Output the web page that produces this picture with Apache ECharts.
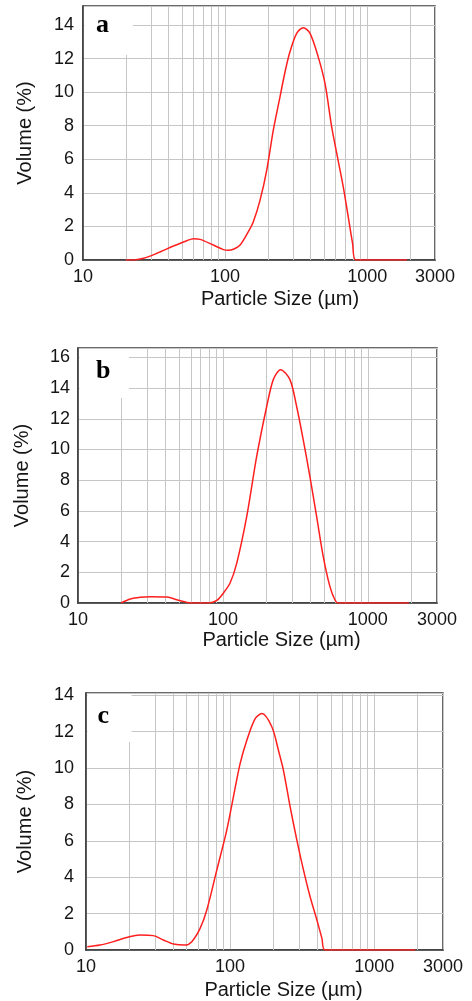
<!DOCTYPE html>
<html>
<head>
<meta charset="utf-8">
<script src="https://cdn.jsdelivr.net/npm/echarts@6.0.0/dist/echarts.min.js"></script>
<style>
html,body{margin:0;padding:0;background:#fff;}
#chart{width:472px;height:1001px;}
</style>
</head>
<body>
<div id="chart"></div>
<script>
// ---- data ----
const xTickLabels = ['10', '100', '1000', '3000'];
const yTickStep = 2;
const minorGridSizes = [20, 30, 40, 50, 60, 70, 80, 90, 200, 300, 400, 500, 600, 700, 800, 900, 2000];
const panelLetters = ['a', 'b', 'c'];
const xAxisTitle = 'Particle Size (µm)';
const yAxisTitle = 'Volume (%)';
const yMaxes = [15.13, 16.61, 14.13];

const sizesA = [20, 23.5, 26.7, 33.1, 43.3, 53.8, 59.9, 66.7, 82.7, 97.3, 105, 114.4, 127.5, 145.8, 158, 176.2, 196.4, 218.4, 243.6, 264, 286, 319, 355, 396, 452, 505, 562, 610, 678, 735, 789, 833, 1910];
const volA   = [0, 0.02, 0.1, 0.4, 0.83, 1.15, 1.27, 1.23, 0.89, 0.62, 0.58, 0.64, 0.89, 1.69, 2.28, 3.57, 5.36, 7.74, 9.73, 11.2, 12.4, 13.5, 13.84, 13.5, 12.1, 10.5, 7.94, 6.36, 4.37, 2.58, 0.99, 0, 0];

const sizesB = [19.8, 23.0, 26.9, 31.6, 41.1, 48.2, 56.4, 59.5, 79.4, 90.8, 100.8, 112, 124.6, 146, 171, 200.5, 222.6, 250, 290, 322.6, 358, 398, 443, 492, 547, 592, 624, 1922];
const volB   = [0, 0.26, 0.37, 0.41, 0.39, 0.21, 0.04, 0, 0, 0.17, 0.65, 1.3, 2.6, 5.64, 9.55, 12.8, 14.55, 15.2, 14.55, 12.8, 10.64, 8.25, 5.64, 3.04, 1.08, 0.21, 0, 0];

const sizesC = [10.2, 12.5, 15.5, 20.0, 23.7, 29.3, 34.4, 40.4, 48.7, 54.2, 61.9, 68.9, 80.8, 94.8, 105.4, 117.3, 130.6, 149.2, 166, 195, 216.4, 234.4, 261, 290.4, 323, 359, 400, 433.5, 457, 1927];
const volC   = [0.18, 0.27, 0.46, 0.73, 0.82, 0.79, 0.55, 0.33, 0.27, 0.46, 1.19, 2.2, 4.39, 6.59, 8.42, 10.25, 11.53, 12.72, 13.0, 12.26, 10.98, 9.88, 7.87, 6.04, 4.39, 2.93, 1.65, 0.64, 0, 0];

const allSizes = [sizesA, sizesB, sizesC];
const allVols = [volA, volB, volC];

// ---- layout / style (not data) ----
const layouts = [
  {left: 83, top: 6,   width: 352, height: 254, yLabelMargin: 9,  yNameGap: 48, xNameGap: 29, xNameShift: 21, box: [84.5, 7, 48.5, 48]},
  {left: 78, top: 348, width: 359, height: 255, yLabelMargin: 8,  yNameGap: 46, xNameGap: 27, xNameShift: 24, box: [79.5, 349, 49.5, 49]},
  {left: 86, top: 693, width: 357, height: 257, yLabelMargin: 12, yNameGap: 51, xNameGap: 30, xNameShift: 19, box: [87.5, 694, 44, 48]}
];
const letterPos = [[102.5, 25], [103.3, 371.5], [103.3, 716]];

const FONT = '"Liberation Sans", Arial, Helvetica, sans-serif';
const TEXT = '#151515';
const GRIDC = '#c6c6c6';
const FRAME = '#3a3a3a';

const grids = [], xAxes = [], yAxes = [], series = [], graphics = [];

layouts.forEach((L, i) => {
  grids.push({
    left: L.left, top: L.top, width: L.width, height: L.height,
    show: true, borderColor: FRAME, borderWidth: 1.5, backgroundColor: 'transparent',
    containLabel: false, outerBoundsMode: 'none'
  });
  xAxes.push({
    type: 'log', logBase: 10, gridIndex: i, min: 10, max: 3000,
    axisLine: {show: true, lineStyle: {color: FRAME, width: 1.5}},
    axisTick: {show: false},
    axisLabel: {
      color: TEXT, fontSize: 18, fontFamily: FONT, margin: 8,
      showMinLabel: true, showMaxLabel: true, hideOverlap: false,
      formatter: function (v) {
        const s = String(Math.round(v));
        return xTickLabels.indexOf(s) >= 0 ? s : '';
      }
    },
    splitLine: {show: true, lineStyle: {color: GRIDC, width: 1}},
    name: xAxisTitle, nameLocation: 'middle', nameGap: L.xNameGap,
    nameTextStyle: {color: TEXT, fontSize: 20, fontFamily: FONT, padding: [0, 0, 0, 2 * L.xNameShift]}
  });
  yAxes.push({
    type: 'value', gridIndex: i, min: 0, max: yMaxes[i], interval: yTickStep,
    axisLine: {show: true, lineStyle: {color: FRAME, width: 1.5}},
    axisTick: {show: false},
    axisLabel: {
      color: TEXT, fontSize: 18, fontFamily: FONT, margin: L.yLabelMargin, showMaxLabel: false,
      formatter: function (v) { return (Math.abs(v % yTickStep) < 1e-9) ? String(v) : ''; }
    },
    splitLine: {show: true, lineStyle: {color: GRIDC, width: 1}},
    name: yAxisTitle, nameLocation: 'middle', nameGap: L.yNameGap,
    nameTextStyle: {color: TEXT, fontSize: 20, fontFamily: FONT}
  });
  // minor vertical grid lines (drawn via the log axis scale)
  series.push({
    type: 'line', xAxisIndex: i, yAxisIndex: i, data: [], z: 1, silent: true,
    markLine: {
      silent: true, symbol: 'none', animation: false,
      label: {show: false},
      lineStyle: {color: GRIDC, width: 1, type: 'solid'},
      emphasis: {disabled: true},
      data: minorGridSizes.map(v => ({xAxis: v}))
    }
  });
  series.push({
    type: 'line', xAxisIndex: i, yAxisIndex: i, z: 5,
    data: allSizes[i].map((s, j) => [s, allVols[i][j]]),
    showSymbol: false, smooth: 0.3,
    lineStyle: {color: '#ff1f1f', width: 1.5},
    animation: false
  });
  const b = L.box;
  graphics.push({
    type: 'rect', z: 50, silent: true,
    shape: {x: b[0], y: b[1], width: b[2], height: b[3]},
    style: {fill: '#ffffff'}
  });
  graphics.push({
    type: 'text', z: 51, silent: true,
    x: letterPos[i][0], y: letterPos[i][1],
    style: {
      text: panelLetters[i], fill: '#000', align: 'center', verticalAlign: 'middle',
      font: 'bold 26px "Liberation Serif", "Times New Roman", serif'
    }
  });
});

const chart = echarts.init(document.getElementById('chart'), null, {renderer: 'canvas'});
chart.setOption({
  animation: false,
  backgroundColor: '#ffffff',
  grid: grids,
  xAxis: xAxes,
  yAxis: yAxes,
  series: series,
  graphic: graphics
});
</script>
</body>
</html>
